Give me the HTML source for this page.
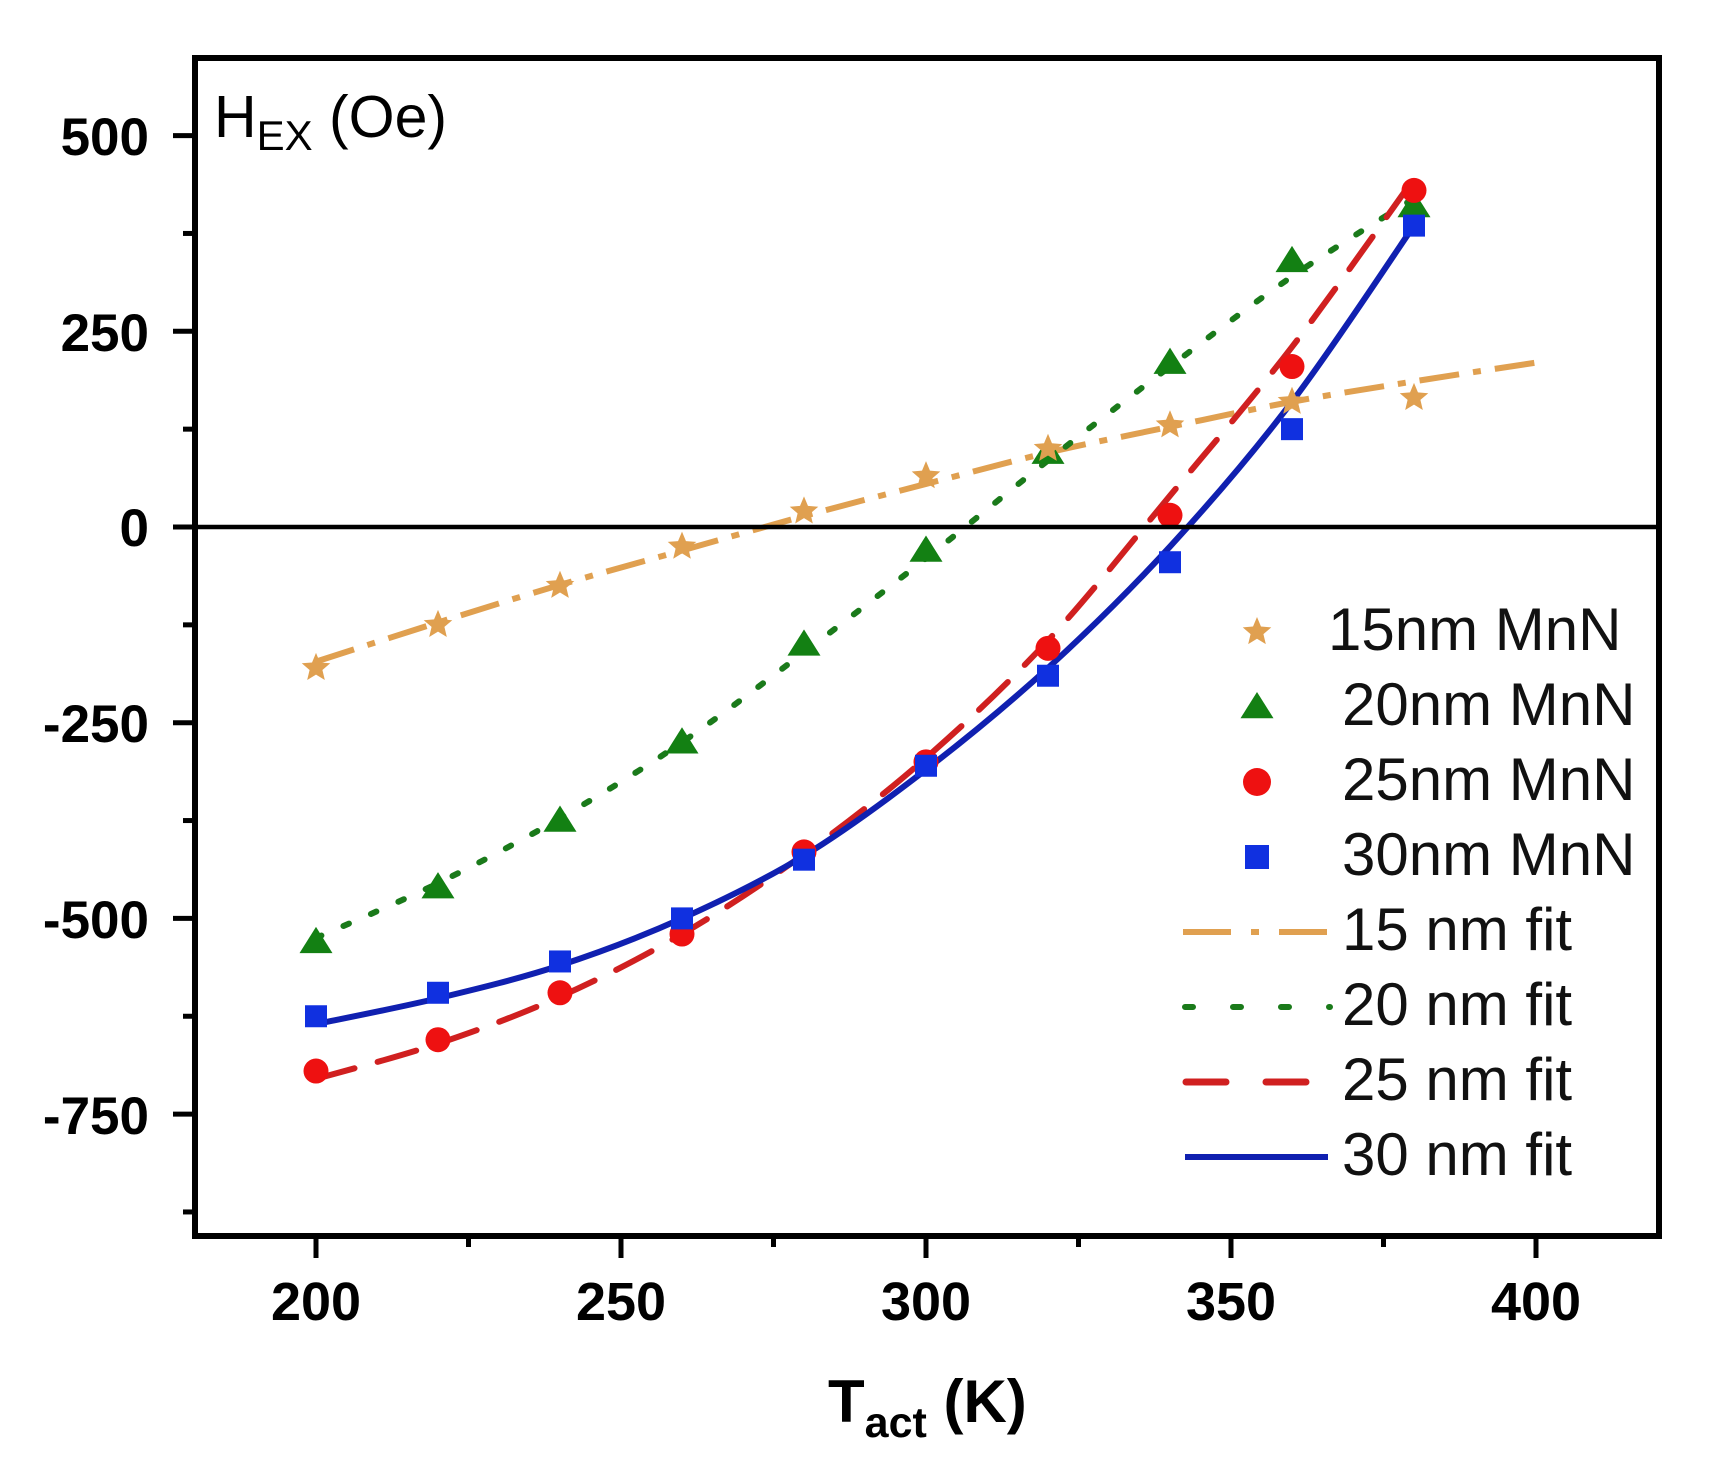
<!DOCTYPE html>
<html><head><meta charset="utf-8"><style>
html,body{margin:0;padding:0;background:#fff;}
svg{display:block;}
text{font-family:"Liberation Sans",Arial,sans-serif;}
</style></head><body>
<svg id="s" width="1710" height="1472" viewBox="0 0 1710 1472" xmlns="http://www.w3.org/2000/svg">
<rect width="1710" height="1472" fill="#fff"/>
<g id="plot"></g>
<rect x="195" y="58" width="1464" height="1178" fill="none" stroke="#000" stroke-width="6"/>
<line x1="195" y1="527" x2="1659" y2="527" stroke="#000" stroke-width="4.5"/>
<g font-weight="bold" font-size="53" text-anchor="end">
<text x="149" y="155">500</text>
<text x="149" y="351">250</text>
<text x="149" y="546">0</text>
<text x="149" y="742">-250</text>
<text x="149" y="938">-500</text>
<text x="149" y="1134">-750</text>
</g>
<g font-weight="bold" font-size="54" text-anchor="middle">
<text x="316" y="1320">200</text>
<text x="621" y="1320">250</text>
<text x="926" y="1320">300</text>
<text x="1231" y="1320">350</text>
<text x="1536" y="1320">400</text>
</g>
<text x="828" y="1422" font-weight="bold" font-size="60">T<tspan font-size="43" dy="15">act</tspan><tspan dy="-15"> (K)</tspan></text>
<text x="214" y="137" font-size="59">H<tspan font-size="42" dy="13">EX</tspan><tspan dy="-13"> (Oe)</tspan></text>
<g font-size="60" fill="#111">
<text x="1328" y="650">15nm MnN</text>
<text x="1342" y="725">20nm MnN</text>
<text x="1342" y="800">25nm MnN</text>
<text x="1342" y="875">30nm MnN</text>
<text x="1342" y="950">15 nm fit</text>
<text x="1342" y="1025">20 nm fit</text>
<text x="1342" y="1100">25 nm fit</text>
<text x="1342" y="1175">30 nm fit</text>
</g>
<g id="leg"></g>
</svg>
<script>
var NS="http://www.w3.org/2000/svg";
function X(t){return 316+(t-200)*6.1;}
function Y(v){return 527-v*0.7828;}
function el(p,n,a){var e=document.createElementNS(NS,n);for(var k in a)e.setAttribute(k,a[k]);p.appendChild(e);return e;}
var plot=document.getElementById('plot'),leg=document.getElementById('leg');
for(var v=-875;v<=600;v+=125){var maj=(v%250===0);el(plot,'line',{x1:maj?173:183,x2:195,y1:Y(v),y2:Y(v),stroke:'#000','stroke-width':5});}
for(var t=200;t<=400;t+=25){var maj=(t%50===0);el(plot,'line',{x1:X(t),x2:X(t),y1:1236,y2:maj?1258:1247,stroke:'#000','stroke-width':5});}
function smooth(pts){var d='M'+pts[0][0]+','+pts[0][1];for(var i=0;i<pts.length-1;i++){var p0=pts[i-1]||pts[i],p1=pts[i],p2=pts[i+1],p3=pts[i+2]||p2;
var c1=[p1[0]+(p2[0]-p0[0])/6,p1[1]+(p2[1]-p0[1])/6],c2=[p2[0]-(p3[0]-p1[0])/6,p2[1]-(p3[1]-p1[1])/6];
d+=' C'+c1+' '+c2+' '+p2;}return d;}
function P(a){return a.map(function(q){return [X(q[0]),Y(q[1])];});}
var f15=[[200,-172],[220,-122],[240,-74],[260,-30],[280,14],[300,55],[320,95],[340,128],[360,160],[380,186],[400,210]];
var f20=[[200,-525],[220,-455],[240,-372],[260,-275],[280,-160],[300,-40],[320,85],[340,205],[360,320],[380,420]];
var f25=[[200,-705],[220,-660],[240,-600],[260,-520],[280,-418],[300,-295],[320,-145],[340,40],[360,230],[380,445]];
var f30=[[200,-635],[220,-602],[240,-560],[260,-500],[280,-420],[300,-310],[320,-180],[340,-25],[360,160],[380,385]];
el(plot,'path',{d:smooth(P(f15)),fill:'none',stroke:'#e0a050','stroke-width':6,'stroke-dasharray':'40 14 8 14'});
el(plot,'path',{d:smooth(P(f20)),fill:'none',stroke:'#1a7a1a','stroke-width':6,'stroke-dasharray':'6 24','stroke-linecap':'round'});
el(plot,'path',{d:smooth(P(f25)),fill:'none',stroke:'#d02020','stroke-width':6,'stroke-dasharray':'40 24','stroke-linecap':'round'});
el(plot,'path',{d:smooth(P(f30)),fill:'none',stroke:'#1020b0','stroke-width':6});
var d15=[-180,-125,-75,-25,20,65,100,130,160,165],d20=[-530,-460,-375,-275,-150,-30,95,210,340,410],
d25=[-695,-655,-595,-520,-415,-300,-155,15,205,430],d30=[-625,-595,-555,-500,-425,-305,-190,-45,125,385];
function star(g,x,y,r,c){var s='';for(var i=0;i<10;i++){var a=-Math.PI/2+i*Math.PI/5,rr=i%2?r*0.45:r;s+=(x+rr*Math.cos(a))+','+(y+rr*Math.sin(a))+' ';}el(g,'polygon',{points:s,fill:c});}
function tri(g,x,y,r,c){el(g,'polygon',{points:(x)+','+(y-r)+' '+(x-r*1.1)+','+(y+r*0.75)+' '+(x+r*1.1)+','+(y+r*0.75),fill:c});}
for(var i=0;i<10;i++){var t=200+20*i,x=X(t);
tri(plot,x,Y(d20[i]),15,'#138013');
el(plot,'circle',{cx:x,cy:Y(d25[i]),r:12.5,fill:'#ee1111'});
el(plot,'rect',{x:x-11,y:Y(d30[i])-11,width:22,height:22,fill:'#1030e0'});
star(plot,x,Y(d15[i]),15,'#e0a050');}
star(leg,1257,632,15,'#e0a050');tri(leg,1257,707,15,'#138013');
el(leg,'circle',{cx:1257,cy:782,r:14,fill:'#ee1111'});
el(leg,'rect',{x:1245,y:845,width:24,height:24,fill:'#1030e0'});
el(leg,'path',{d:'M1183,932 H1330',stroke:'#e0a050','stroke-width':6,'stroke-dasharray':'48 20 8 20'});
el(leg,'path',{d:'M1185,1007 H1330',stroke:'#1a7a1a','stroke-width':6,'stroke-dasharray':'8 40','stroke-linecap':'round'});
el(leg,'path',{d:'M1186,1082 H1307',stroke:'#d02020','stroke-width':7,'stroke-dasharray':'40 40','stroke-linecap':'round'});
el(leg,'path',{d:'M1185,1157 H1328',stroke:'#1020b0','stroke-width':6});
</script>
</body></html>
